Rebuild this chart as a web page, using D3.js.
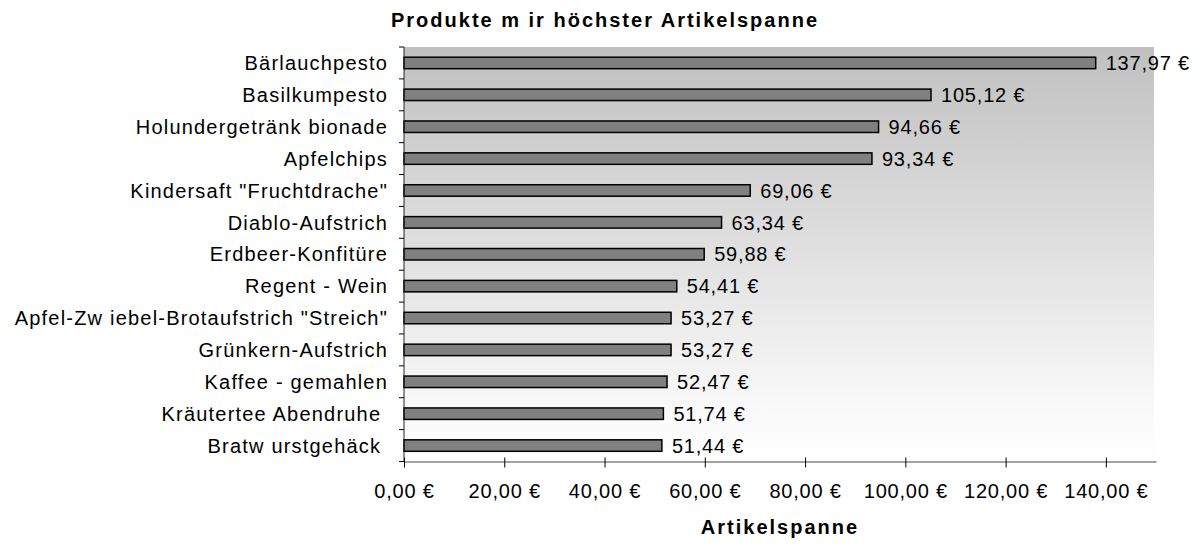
<!DOCTYPE html>
<html>
<head>
<meta charset="utf-8">
<script src="https://cdn.jsdelivr.net/npm/d3@7"></script>
<style>
  body { margin: 0; background: #fff; }
  svg text { font-family: 'Liberation Sans', Arial, sans-serif; fill: #000; white-space: pre; }
  .cat-label { font-size: 20px; letter-spacing: 1.2px; }
  .value-label, .x-tick { font-size: 20px; letter-spacing: 0.8px; }
  .title { font-size: 20px; font-weight: bold; letter-spacing: 2px; }
</style>
</head>
<body>
<div id="chart"></div>
<script>
const products = [
  'Bärlauchpesto',
  'Basilkumpesto',
  'Holundergetränk bionade',
  'Apfelchips',
  'Kindersaft "Fruchtdrache"',
  'Diablo-Aufstrich',
  'Erdbeer-Konfitüre',
  'Regent - Wein',
  'Apfel-Zw iebel-Brotaufstrich "Streich"',
  'Grünkern-Aufstrich',
  'Kaffee - gemahlen',
  'Kräutertee Abendruhe ',
  'Bratw urstgehäck '
];
const spanne = [137.97, 105.12, 94.66, 93.34, 69.06, 63.34, 59.88, 54.41, 53.27, 53.27, 52.47, 51.74, 51.44];
const xTicks = [0, 20, 40, 60, 80, 100, 120, 140];
const chartTitle = 'Produkte m ir höchster Artikelspanne';
const xTitle = 'Artikelspanne';

const width = 1198, height = 546;
const margin = { top: 47, right: 42, bottom: 84.5, left: 404 };
const innerWidth = width - margin.left - margin.right;
const innerHeight = height - margin.top - margin.bottom;

const de = d3.formatLocale({ decimal: ',', thousands: '.', grouping: [3], currency: ['', ' €'] });
const euro = de.format('$,.2f');

const rows = products.map((name, i) => ({ name, value: spanne[i] }));

const svg = d3.select('#chart').append('svg')
  .attr('width', width).attr('height', height);

const defs = svg.append('defs');
const grad = defs.append('linearGradient').attr('id', 'bg').attr('x1', 0).attr('y1', 0).attr('x2', 0).attr('y2', 1);
grad.append('stop').attr('offset', '0%').attr('stop-color', '#c0c0c0');
grad.append('stop').attr('offset', '90%').attr('stop-color', '#fbfbfb');
grad.append('stop').attr('offset', '100%').attr('stop-color', '#ffffff');

const g = svg.append('g').attr('transform', `translate(${margin.left},${margin.top})`);

const x = d3.scaleLinear().domain([0, 150]).range([0, innerWidth]);
const y = d3.scaleBand().domain(products).range([0, innerHeight]).paddingInner(0.64).paddingOuter(0.32);

g.append('rect')
  .attr('width', x(150) - 2).attr('height', innerHeight)
  .attr('fill', 'url(#bg)');

// bars
g.append('g').selectAll('rect').data(rows).join('rect')
  .attr('x', 0)
  .attr('y', d => y(d.name))
  .attr('width', d => x(d.value))
  .attr('height', y.bandwidth())
  .attr('fill', '#808080')
  .attr('stroke', '#000')
  .attr('stroke-width', 1.5);

// value labels
g.append('g').selectAll('text').data(rows).join('text')
  .attr('class', 'value-label')
  .attr('x', d => x(d.value) + 10)
  .attr('y', d => y(d.name) + y.bandwidth() / 2)
  .attr('dy', '0.36em')
  .text(d => euro(d.value));

// y axis: line, ticks on category boundaries, labels
const yAxis = g.append('g');
yAxis.append('line').attr('x1', 0).attr('x2', 0).attr('y1', 0).attr('y2', innerHeight)
  .attr('stroke', '#222');
yAxis.selectAll('line.tick').data(d3.range(products.length + 1)).join('line')
  .attr('class', 'tick')
  .attr('x1', -5).attr('x2', 0)
  .attr('y1', i => i * y.step()).attr('y2', i => i * y.step())
  .attr('stroke', '#000');
yAxis.selectAll('text').data(products).join('text')
  .attr('class', 'cat-label')
  .attr('x', -16)
  .attr('y', d => y(d) + y.bandwidth() / 2)
  .attr('dy', '0.36em')
  .attr('text-anchor', 'end')
  .text(d => d);

// x axis
const xAxis = g.append('g').attr('transform', `translate(0,${innerHeight})`)
  .call(d3.axisBottom(x).tickValues(xTicks).tickFormat(euro).tickSizeInner(6).tickSizeOuter(0).tickPadding(16));
xAxis.select('.domain').attr('stroke', '#444');
xAxis.selectAll('.tick line').attr('y1', -4).attr('y2', 6).attr('stroke', '#000');
xAxis.selectAll('.tick text').attr('class', 'x-tick').attr('font-size', null).attr('font-family', null);

svg.append('text').attr('class', 'title')
  .attr('x', 605).attr('y', 27)
  .attr('text-anchor', 'middle')
  .text(chartTitle);

svg.append('text').attr('class', 'title')
  .attr('x', margin.left + innerWidth / 2).attr('y', 534)
  .attr('text-anchor', 'middle')
  .text(xTitle);
</script>
</body>
</html>
